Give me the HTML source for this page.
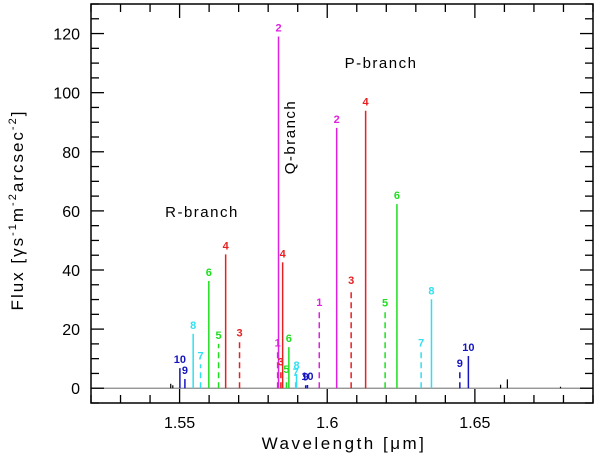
<!DOCTYPE html>
<html><head><meta charset="utf-8"><style>
html,body{margin:0;padding:0;background:#fff;}
svg{display:block;font-family:"Liberation Sans",sans-serif;}
</style></head><body>
<svg id="chart" width="600" height="462" viewBox="0 0 600 462" xmlns="http://www.w3.org/2000/svg">
<g id="marks"></g>
<g id="axes"></g>
<text x="202" y="217" font-size="15" text-anchor="middle" letter-spacing="1.5">R-branch</text>
<text x="381" y="68" font-size="15" text-anchor="middle" letter-spacing="1.5">P-branch</text>
<text transform="translate(295,137) rotate(-90)" font-size="15" text-anchor="middle" letter-spacing="1.5">Q-branch</text>
<text x="344" y="449" font-size="17" text-anchor="middle" letter-spacing="2.5">Wavelength [μm]</text>
<text transform="translate(23,210) rotate(-90)" font-size="17" text-anchor="middle" letter-spacing="2">Flux [γs<tspan font-size="11" dy="-7">-1</tspan><tspan dy="7">m</tspan><tspan font-size="11" dy="-7">-2</tspan><tspan dy="7">arcsec</tspan><tspan font-size="11" dy="-7">-2</tspan><tspan dy="7">]</tspan></text>
</svg>
<script>
const lineWavelengths = [1.5501,1.5518,1.5546,1.5571,1.5599,1.5632,1.5656,1.5703,
  1.5832,1.5835,1.5843,1.5849,1.5862,1.5870,1.5893,1.5896,1.5927,1.5933,1.5973,
  1.6032,1.6081,1.6130,1.6196,1.6236,1.6318,1.6353,1.6449,1.6478];
const lineFluxes = [6.8,3.1,18.4,8.1,36.3,15.0,45.3,15.8,
  12.4,119,6.0,42.6,3.5,13.9,2.5,4.8,1.0,1.1,26.2,
  88.1,33.5,93.9,25.9,62.3,12.4,30.1,5.5,10.9];
const lineLevels = [10,9,8,7,6,5,4,3, 1,2,3,4,5,6,7,8,9,10,1, 2,3,4,5,6,7,8,9,10];
const lineDashed = [0,0,0,1,0,1,0,1, 1,0,1,0,1,0,1,0,1,0,1, 0,1,0,1,0,1,0,1,0];
const minorWavelengths = [1.5470,1.5477,1.6587,1.6610,1.6790];
const minorFluxes = [1.5,1.0,1.2,3.0,0.5];
const xTickLabels = ["1.55","1.6","1.65"];
const xTickValues = [1.55,1.60,1.65];
const yTickValues = [0,20,40,60,80,100,120];

const L=91,R=593,T=4,B=403,XMIN=1.52,XMAX=1.69,YMIN=-5,YMAX=130;
const colors={1:"#e020e0",2:"#e020e0",3:"#e82020",4:"#e82020",5:"#20dd20",6:"#20dd20",7:"#30e0f0",8:"#30e0f0",9:"#1515c0",10:"#1515c0"};
function xs(v){return L+(v-XMIN)/(XMAX-XMIN)*(R-L);}
function ys(v){return B-(v-YMIN)/(YMAX-YMIN)*(B-T);}
const NS="http://www.w3.org/2000/svg";
function mk(tag,attrs,parent){const e=document.createElementNS(NS,tag);for(const k in attrs)e.setAttribute(k,attrs[k]);parent.appendChild(e);return e;}
const marks=document.getElementById('marks'),axes=document.getElementById('axes');

const z=mk('line',{x1:L,x2:R,y1:ys(0),y2:ys(0),stroke:"#888","stroke-width":1.2},marks);



minorWavelengths.forEach((w,i)=>{
  const x=xs(w);
  const m=mk('line',{x1:x,x2:x,y1:ys(0),y2:ys(minorFluxes[i]),stroke:"#000","stroke-width":1.2},marks);
  
  
});

lineWavelengths.forEach((w,i)=>{
  const x=xs(w),y0=ys(0),y1=ys(lineFluxes[i]),c=colors[lineLevels[i]];
  const ln=mk('line',{x1:x,x2:x,y1:y0,y2:y1,stroke:c,"stroke-width":1.5},marks);
  if(lineDashed[i])ln.setAttribute('stroke-dasharray','6,4');
  
  
  const t=mk('text',{x:x,y:y1-5,fill:c,"font-size":11,"font-weight":"bold","text-anchor":"middle"},marks);
  t.textContent=lineLevels[i];
  
  
});

const fr=mk('rect',{x:L,y:T,width:R-L,height:B-T,fill:"none",stroke:"#000","stroke-width":1.5},axes);



for(let k=0;k<=17;k++){
  const v=XMIN+k*0.01,x=xs(v),maj=(Math.round(v*100)%5===0);const len=maj?14:8;
  mk('line',{x1:x,x2:x,y1:B,y2:B-len,stroke:"#000","stroke-width":1.3},axes);
  mk('line',{x1:x,x2:x,y1:T,y2:T+len,stroke:"#000","stroke-width":1.3},axes);
}
xTickValues.forEach((v,i)=>{
  const t=mk('text',{x:xs(v),y:428,"font-size":16,"text-anchor":"middle"},axes);
  t.textContent=xTickLabels[i];
  
  
});
for(let v=-5;v<=130;v+=5){
  const y=ys(v),len=(v%20===0)?13:8;
  mk('line',{x1:L,x2:L+len,y1:y,y2:y,stroke:"#000","stroke-width":1.3},axes);
  mk('line',{x1:R,x2:R-len,y1:y,y2:y,stroke:"#000","stroke-width":1.3},axes);
}
yTickValues.forEach(v=>{
  const t=mk('text',{x:80,y:ys(v)+6,"font-size":16,"text-anchor":"end"},axes);
  t.textContent=v;
  
  
});
</script>
</body></html>
